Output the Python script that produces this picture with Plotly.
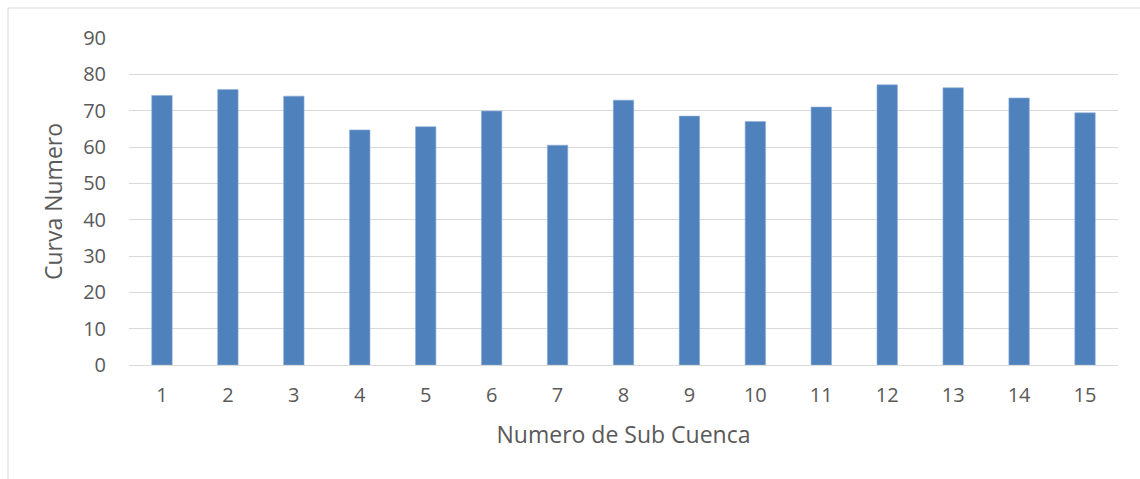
import plotly.graph_objects as go

subcuencas = [str(i) for i in range(1, 16)]
curva_numero = [74.2, 75.8, 74.0, 64.7, 65.6, 69.9, 60.5, 72.9, 68.5, 67.0, 71.0, 77.1, 76.3, 73.5, 69.4]
y_ticks = [0, 10, 20, 30, 40, 50, 60, 70, 80, 90]

W, H = 1140, 479
L, R, T, B = 129, 22, 38, 114

fig = go.Figure(
    go.Bar(
        x=subcuencas,
        y=curva_numero,
        marker=dict(color="#4F81BD", line=dict(color="#8eb0da", width=0.6)),
        width=0.31,
    )
)

font_family = "Open Sans, sans-serif"

fig.update_layout(
    width=W,
    height=H,
    margin=dict(l=L, r=R, t=T, b=B),
    paper_bgcolor="white",
    plot_bgcolor="white",
    showlegend=False,
    font=dict(family=font_family, color="#595959", size=20),
    xaxis=dict(
        type="category",
        showgrid=False,
        showline=True,
        linecolor="#d9d9d9",
        linewidth=1,
        ticks="",
        ticklabelstandoff=12,
        tickfont=dict(size=20, color="#595959"),
        title=dict(text="Numero de Sub Cuenca", font=dict(size=23, color="#595959"), standoff=19),
    ),
    yaxis=dict(
        range=[0, 90],
        tickvals=y_ticks,
        showgrid=True,
        gridcolor="#d9d9d9",
        gridwidth=1,
        zeroline=False,
        showline=False,
        ticks="",
        ticklabelstandoff=22,
        tickfont=dict(size=20, color="#595959"),
        title=dict(text="Curva Numero", font=dict(size=23, color="#595959"), standoff=14),
    ),
)

# Chart-area border (left and top edges fall inside the page)
pw = W - L - R
ph = H - T - B
x0 = (8 - L) / pw
y0 = (H - B - 8) / ph
fig.add_shape(type="line", xref="paper", yref="paper", x0=x0, x1=x0, y0=y0, y1=-2,
              line=dict(color="#d9d9d9", width=1))
fig.add_shape(type="line", xref="paper", yref="paper", x0=x0, x1=2, y0=y0, y1=y0,
              line=dict(color="#d9d9d9", width=1))

fig.write_html("out.html")
